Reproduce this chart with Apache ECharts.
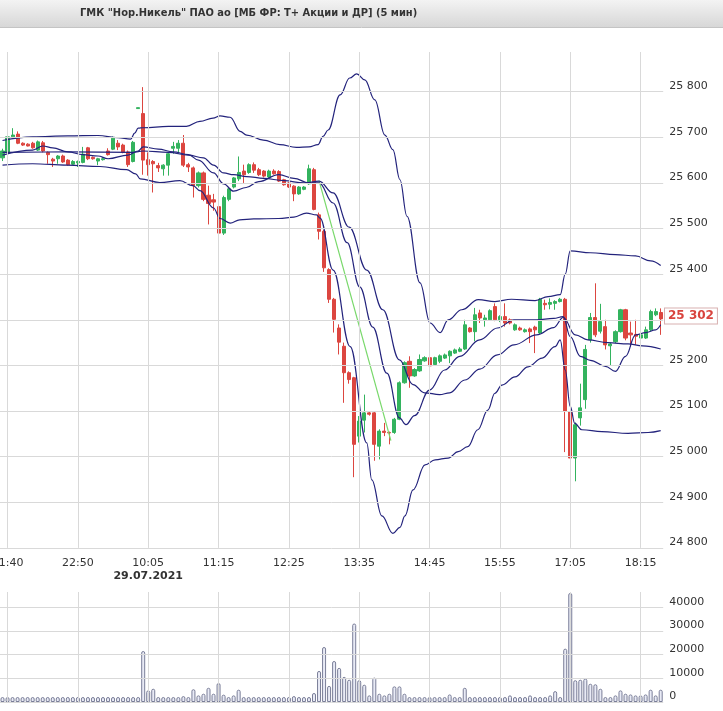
<!DOCTYPE html>
<html><head><meta charset="utf-8">
<script src="https://cdn.jsdelivr.net/npm/echarts@6/dist/echarts.min.js"></script>
<style>html,body{margin:0;padding:0;background:#fff}#c{width:723px;height:711px}</style>
</head><body><div id="c"></div>
<script>
const titleText = 'ГМК "Нор.Никель" ПАО ао [МБ ФР: Т+ Акции и ДР] (5 мин)';
const times = ["21:35","21:40","21:45","21:50","21:55","22:00","22:05","22:10","22:15","22:20","22:25","22:30","22:35","22:40","22:45","22:50","22:55","23:00","23:05","23:10","23:15","23:20","23:25","23:30","23:35","23:40","23:45","23:50",
"10:00","10:05","10:10","10:15","10:20","10:25","10:30","10:35","10:40","10:45","10:50","10:55",
"11:00","11:05","11:10","11:15","11:20","11:25","11:30","11:35","11:40","11:45","11:50","11:55",
"12:00","12:05","12:10","12:15","12:20","12:25","12:30","12:35","12:40","12:45","12:50","12:55",
"13:00","13:05","13:10","13:15","13:20","13:25","13:30","13:35","13:40","13:45","13:50","13:55",
"14:00","14:05","14:10","14:15","14:20","14:25","14:30","14:35","14:40","14:45","14:50","14:55",
"15:00","15:05","15:10","15:15","15:20","15:25","15:30","15:35","15:40","15:45","15:50","15:55",
"16:00","16:05","16:10","16:15","16:20","16:25","16:30","16:35","16:40","16:45","16:50","16:55",
"17:00","17:05","17:10","17:15","17:20","17:25","17:30","17:35","17:40","17:45","17:50","17:55",
"18:00","18:05","18:10","18:15","18:20","18:25","18:30","18:35"];
const open = [25655,25667,25701,25707,25687,25685,25687,25672,25688,25667,25652,25653,25659,25650,25641,25644,25645,25677,25656,25648,25651,25670,25674,25687,25683,25668,25647,25763,
25752,25651,25647,25638,25631,25639,25676,25676,25687,25640,25633,25594,25622,25573,25563,25548,25490,25564,25591,25609,25626,25623,25640,25629,25626,25613,25626,25625,25607,25600,25593,25576,25586,25598,25629,25530,25494,25410,25345,25282,25242,25184,25173,25045,25080,25096,25096,25023,25056,25053,25053,25082,25162,25209,25177,25188,25210,25217,25202,25209,25216,25221,25227,25231,25236,25282,25274,25315,25300,25300,25329,25300,25307,25300,25278,25282,25274,25280,25284,25271,25336,25334,25336,25340,25345,25099,24997,25085,25125,25256,25305,25275,25285,25243,25252,25274,25322,25271,25268,25260,25260,25278,25311,25316];
const close = [25670,25701,25705,25687,25683,25681,25677,25690,25670,25662,25648,25659,25646,25640,25647,25647,25663,25653,25653,25653,25653,25662,25698,25679,25667,25640,25689,25765,
25650,25640,25642,25633,25639,25664,25680,25687,25639,25635,25594,25622,25564,25555,25558,25490,25568,25587,25611,25623,25618,25640,25628,25618,25615,25626,25620,25604,25596,25591,25576,25591,25591,25631,25542,25494,25414,25345,25301,25251,25184,25169,25027,25078,25096,25093,25027,25056,25053,25052,25082,25162,25206,25177,25191,25213,25217,25199,25217,25221,25223,25231,25234,25236,25289,25274,25311,25304,25304,25320,25300,25307,25293,25293,25289,25278,25278,25274,25278,25345,25333,25338,25340,25345,25099,24997,25070,25107,25235,25305,25267,25296,25245,25247,25274,25322,25260,25267,25264,25267,25278,25318,25318,25302];
const low = [25648,25664,25698,25685,25681,25680,25675,25670,25667,25642,25635,25642,25644,25638,25639,25635,25643,25650,25651,25639,25649,25660,25672,25672,25665,25635,25645,25763,
25618,25616,25579,25624,25616,25616,25664,25664,25635,25624,25568,25590,25560,25509,25539,25479,25486,25560,25588,25604,25600,25620,25622,25615,25612,25611,25618,25602,25594,25589,25560,25574,25584,25596,25540,25476,25405,25337,25272,25224,25118,25160,24955,25031,25053,25090,24991,24994,25045,25027,25050,25080,25160,25151,25175,25186,25208,25197,25200,25205,25214,25205,25225,25229,25234,25272,25253,25293,25285,25298,25297,25295,25285,25290,25276,25276,25272,25249,25227,25268,25322,25323,25322,25338,25010,24882,24946,25068,25105,25250,25262,25270,25235,25200,25249,25272,25255,25241,25245,25257,25258,25275,25308,25267];
const high = [25675,25705,25720,25713,25689,25687,25690,25693,25692,25669,25655,25661,25662,25652,25650,25649,25679,25679,25658,25655,25656,25676,25702,25694,25686,25671,25692,25765,
25810,25667,25650,25644,25641,25668,25690,25694,25705,25644,25636,25625,25625,25594,25576,25553,25572,25590,25613,25658,25640,25643,25645,25633,25628,25629,25630,25628,25609,25602,25595,25593,25593,25640,25633,25535,25497,25413,25348,25290,25250,25187,25175,25089,25136,25100,25098,25060,25074,25055,25085,25165,25209,25220,25194,25224,25220,25220,25219,25224,25226,25233,25237,25240,25300,25284,25326,25322,25311,25323,25336,25310,25336,25303,25292,25285,25281,25283,25287,25348,25344,25347,25343,25348,25348,25100,25075,25160,25245,25315,25380,25335,25300,25250,25277,25324,25324,25296,25300,25270,25285,25322,25325,25325];
const volume = [700,900,1000,500,150,150,150,150,150,1000,1200,200,200,200,900,1000,200,200,200,200,200,200,200,200,200,200,200,200,
21500,4900,5600,1800,300,1400,1800,1800,2500,400,5400,2800,3500,6000,3500,8000,3100,1800,2800,5200,1800,1400,1400,1800,1400,300,300,300,1400,300,2500,1800,1400,1400,3800,13100,23200,6800,17300,14400,10600,9400,33100,9200,7300,2800,10300,3500,2800,3500,6600,6600,3500,2100,1800,1800,300,300,800,1400,1400,3200,1400,300,6000,300,1400,1400,300,2100,1800,300,1800,2800,1800,300,300,2800,1800,1800,2100,2800,4600,1400,22500,46000,9200,9400,9900,7700,7500,5600,2100,1800,2800,4900,3500,3200,2800,2800,3200,5200,2800,5200];
const upperBand = [[0,25693],[6,25701],[13,25703],[19,25704],[23,25699],[25.5,25696],[26.3,25709],[27,25720],[28,25721],[33,25724],[36.6,25724],[39.3,25735],[41.9,25742],[43.3,25747],[45.3,25744],[47.3,25713],[48.6,25705],[51.9,25694],[55.2,25684],[58.5,25678],[61,25679],[62.8,25684],[63.8,25702],[64.8,25716],[67.2,25793],[69.1,25830],[70.5,25839],[72.1,25826],[74.1,25782],[76.1,25705],[77.7,25673],[79.1,25607],[80.5,25527],[83.1,25381],[85.1,25293],[87.1,25272],[88.7,25300],[91.4,25322],[94.7,25344],[98,25340],[101.3,25345],[106,25342],[108.6,25351],[111,25355],[112,25400],[113,25451],[117,25447],[122,25443],[126,25440],[129,25429],[131,25419]];
const middleBand = [[0,25667],[13,25668],[26,25667],[28,25670],[33,25667],[37,25661],[40,25655],[42,25639],[44,25622],[46,25618],[48.6,25614],[52,25610],[56,25605],[60,25600],[63,25604],[65.8,25578],[69,25503],[72.5,25409],[75.7,25322],[79,25212],[81.7,25158],[84,25140],[87,25136],[89,25140],[92,25168],[95,25192],[98.5,25223],[101.8,25245],[106.3,25267],[109.7,25283],[111.6,25305],[114,25267],[116.5,25256],[120.5,25250],[124.5,25247],[127.4,25243],[131,25236]];
const fastMA = [[0,25661],[6,25672],[8,25681],[10,25677],[13,25668],[16,25662],[19,25659],[21,25653],[25,25661],[27,25670],[28,25679],[31,25674],[34,25668],[37,25662],[39,25650],[42,25622],[44,25598],[46,25582],[48.5,25590],[51,25603],[55,25618],[58,25610],[61,25600],[63,25600],[65.8,25556],[68.6,25469],[71.1,25372],[73.7,25284],[76.5,25183],[79,25085],[80.3,25070],[82,25090],[85,25146],[88,25190],[91,25220],[95,25256],[98.5,25282],[101.8,25300],[106.3,25300],[109.7,25303],[111.6,25307],[113,25263],[115,25220],[117,25211],[120,25198],[122,25187],[124,25220],[126,25267],[128,25272],[130,25278],[131,25289]];
const lowerBand = [[0,25639],[6,25642],[12.8,25639],[19.4,25636],[24.7,25629],[26.5,25620],[27.4,25609],[31.3,25601],[35.3,25605],[37.9,25594],[39.3,25583],[42,25545],[43.3,25522],[45.3,25512],[47.2,25519],[50,25521],[55,25522],[58,25525],[60.5,25534],[62.5,25530],[63.2,25523],[65.8,25409],[69.2,25241],[72.5,25030],[73.5,24949],[75.5,24870],[77.7,24832],[79.1,24845],[80.1,24870],[81.7,24927],[84.1,24982],[86.1,24993],[88.7,24997],[90.7,25011],[92.6,25022],[94.6,25059],[96.6,25102],[98,25139],[99.4,25157],[102,25175],[104.6,25197],[107.4,25216],[110,25241],[111,25256],[112,25190],[113,25110],[113.9,25073],[115.3,25059],[119.3,25055],[124.5,25051],[128.5,25053],[131,25057]];
const trendLine = [[63,25605],[77.3,25035]];
const labelIdx = [1,15,29,43,57,71,85,99,113,127];
const dateIdx = 29;
const dateLabel = '29.07.2021';
const priceTicks = [24800,24900,25000,25100,25200,25300,25400,25500,25600,25700,25800];
const volTicks = [0,10000,20000,30000,40000];

const FONT = 'DejaVu Sans';
const fmt = v => String(v).replace(/\B(?=(\d{3})+(?!\d))/g, ' ');
const n = times.length;
const lastClose = close[n - 1];
const gridColor = '#d9d9d9';
const bandColor = '#23237c';

function gridLines(ticks, axisKey) {
  return ticks.map(t => ({ [axisKey]: t }));
}
const vLines = labelIdx.map(i => ({ xAxis: i }));

const chart = echarts.init(document.getElementById('c'), null, { renderer: 'canvas' });
const PW = 663.2;
const bgGraphics = [{
    type: 'rect', z: -10, silent: true,
    shape: { x: 0, y: 0, width: 723, height: 27 },
    style: { fill: new echarts.graphic.LinearGradient(0, 0, 0, 1, [
      { offset: 0, color: '#f3f3f3' }, { offset: 1, color: '#d7d7d7' }]) }
  }, {
    type: 'line', z: -9, silent: true,
    shape: { x1: 0, y1: 27.5, x2: 723, y2: 27.5 },
    style: { stroke: '#c4c4c4', lineWidth: 1 }
  }];
chart.setOption({
  animation: false,
  backgroundColor: '#fff',
  title: {
    text: titleText, left: 80, top: 8, padding: 0,
    textStyle: { fontFamily: 'DejaVu Sans Condensed', fontSize: 11, fontWeight: 'bold', color: '#333' }
  },
  graphic: bgGraphics,
  grid: [
    { left: 0, top: 52, width: PW, height: 495.9, outerBoundsMode: 'none', containLabel: false },
    { left: 0, top: 592, width: PW, height: 110, outerBoundsMode: 'none', containLabel: false }
  ],
  xAxis: [
    { type: 'category', gridIndex: 0, data: times, boundaryGap: true,
      axisLine: { show: false }, axisTick: { show: false }, splitLine: { show: false },
      axisLabel: {
        interval: (idx) => labelIdx.indexOf(idx) >= 0,
        formatter: (val, idx) => idx === dateIdx ? val + '\n{d|' + dateLabel + '}' : val,
        color: '#333', fontFamily: FONT, fontSize: 11, margin: 9, lineHeight: 12,
        rich: { d: { fontFamily: FONT, fontSize: 11, fontWeight: 'bold', color: '#333', lineHeight: 14 } }
      } },
    { type: 'value', gridIndex: 0, min: -0.5, max: n - 0.5, show: false },
    { type: 'category', gridIndex: 1, data: times, boundaryGap: true,
      axisLine: { show: false }, axisTick: { show: false }, axisLabel: { show: false }, splitLine: { show: false } },
    { type: 'value', gridIndex: 1, min: -0.5, max: n - 0.5, show: false }
  ],
  yAxis: [
    { type: 'value', gridIndex: 0, position: 'right', min: 24800, max: 25887, interval: 100,
      axisLine: { show: false }, axisTick: { show: false }, splitLine: { show: false },
      axisLabel: { showMaxLabel: false, formatter: v => Math.abs(v - lastClose) < 30 ? '' : fmt(v),
        color: '#333', fontFamily: FONT, fontSize: 11, margin: 6, verticalAlign: 'bottom' } },
    { type: 'value', gridIndex: 1, position: 'right', min: 0, max: 46400, interval: 10000,
      axisLine: { show: false }, axisTick: { show: false }, splitLine: { show: false },
      axisLabel: { showMaxLabel: false, formatter: v => String(v), color: '#333', fontFamily: FONT, fontSize: 11, margin: 6, verticalAlign: 'bottom' } }
  ],
  series: [
    { type: 'line', xAxisIndex: 1, yAxisIndex: 0, z: 0, data: [[-0.5, 24800]], symbol: 'none',
      lineStyle: { opacity: 0 }, silent: true,
      markLine: { silent: true, symbol: 'none', label: { show: false }, animation: false,
        lineStyle: { color: gridColor, width: 1, type: 'solid' },
        data: gridLines(priceTicks, 'yAxis').concat(vLines) } },
    { type: 'line', xAxisIndex: 3, yAxisIndex: 1, z: 0, data: [[-0.5, 0]], symbol: 'none',
      lineStyle: { opacity: 0 }, silent: true,
      markLine: { silent: true, symbol: 'none', label: { show: false }, animation: false,
        lineStyle: { color: gridColor, width: 1, type: 'solid' },
        data: gridLines(volTicks, 'yAxis').concat(vLines) } },
    { type: 'candlestick', xAxisIndex: 0, yAxisIndex: 0, z: 2, barWidth: 3.6,
      data: times.map((t, i) => [open[i], close[i], low[i], high[i]]),
      itemStyle: { color: '#33b35e', color0: '#dc4640', borderColor: '#33b35e', borderColor0: '#dc4640', borderWidth: 1 } },
    { type: 'line', xAxisIndex: 1, yAxisIndex: 0, z: 3, data: trendLine, symbol: 'none',
      lineStyle: { color: '#78d86a', width: 1.2 } },
    { type: 'line', xAxisIndex: 1, yAxisIndex: 0, z: 4, data: upperBand, symbol: 'none', smooth: 0.4, smoothMonotone: 'x',
      lineStyle: { color: bandColor, width: 1.2 } },
    { type: 'line', xAxisIndex: 1, yAxisIndex: 0, z: 4, data: middleBand, symbol: 'none', smooth: 0.4, smoothMonotone: 'x',
      lineStyle: { color: bandColor, width: 1.2 } },
    { type: 'line', xAxisIndex: 1, yAxisIndex: 0, z: 4, data: fastMA, symbol: 'none', smooth: 0.4, smoothMonotone: 'x',
      lineStyle: { color: bandColor, width: 1.2 } },
    { type: 'line', xAxisIndex: 1, yAxisIndex: 0, z: 4, data: lowerBand, symbol: 'none', smooth: 0.4, smoothMonotone: 'x',
      lineStyle: { color: bandColor, width: 1.2 } },
    { type: 'bar', xAxisIndex: 2, yAxisIndex: 1, z: 2, data: volume, barWidth: 4, barMinHeight: 5,
      itemStyle: { color: '#e9ebf6', borderColor: '#7a7e98', borderWidth: 1, borderRadius: [2, 2, 0, 0] } }
  ]
});
// last-price tag placed through the price axis scale
const tagY = chart.convertToPixel({ yAxisIndex: 0 }, lastClose);
chart.setOption({
  graphic: bgGraphics.concat([{
    type: 'text', z: 10, silent: true,
    x: 665, y: tagY - 3,
    style: {
      text: fmt(lastClose), fill: '#d9443e', font: 'bold 12px "DejaVu Sans"',
      verticalAlign: 'middle', align: 'left',
      backgroundColor: '#fff', borderColor: '#d8b0b0', borderWidth: 1, padding: [2, 3, 1, 3]
    }
  }])
});
</script></body></html>
